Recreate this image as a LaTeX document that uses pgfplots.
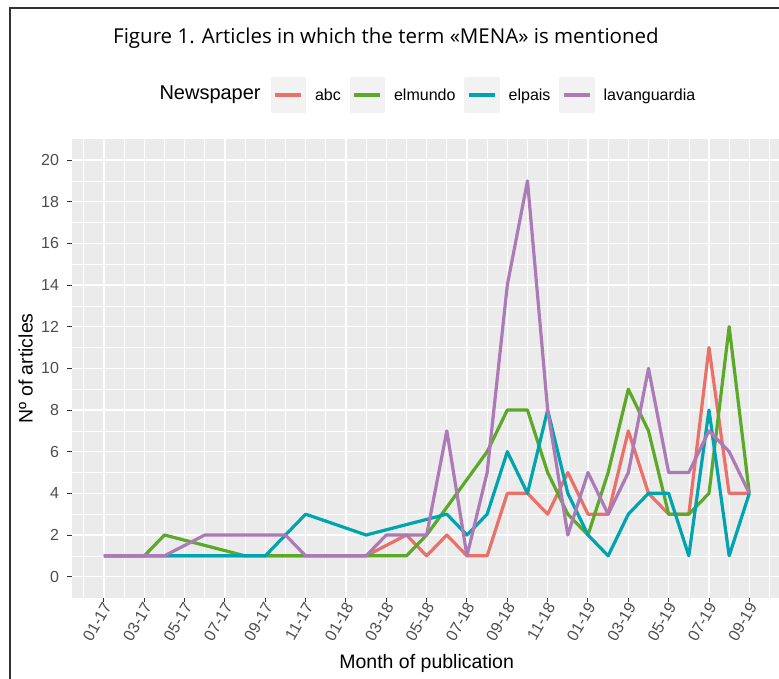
\documentclass[border=0pt]{standalone}
\usepackage{pgfplots}
\pgfplotsset{compat=1.18}
\usepackage{fontspec}
\setmainfont{Liberation Sans}
\newfontfamily\titlefont{Open Sans}
\definecolor{cabc}{RGB}{234,112,106}
\definecolor{celm}{RGB}{92,168,40}
\definecolor{cpais}{RGB}{0,164,174}
\definecolor{clav}{RGB}{172,122,182}
\definecolor{panelbg}{RGB}{235,235,235}
\definecolor{keybg}{RGB}{242,242,242}
\definecolor{ticktext}{RGB}{77,77,77}
\definecolor{tickcol}{RGB}{51,51,51}
\begin{document}
\begin{tikzpicture}[x=1pt,y=1pt]
\begin{axis}[
  at={(0,0)}, anchor=south west,
  scale only axis, width=709.9pt, height=458.3pt,
  xmin=-1.6, xmax=33.6, ymin=-1, ymax=21,
  xtick={0,2,...,32},
  xticklabels={01-17,03-17,05-17,07-17,09-17,11-17,01-18,03-18,05-18,07-18,09-18,11-18,01-19,03-19,05-19,07-19,09-19},
  minor xtick={-1,1,...,33},
  ytick={0,2,...,20},
  minor ytick={1,3,...,19},
  grid=both,
  major grid style={white, line width=1.3pt},
  minor grid style={white, line width=0.65pt},
  axis background/.style={fill=panelbg},
  axis line style={draw=none},
  tick pos=left,
  tick align=outside,
  major tick length=4.5pt,
  minor tick length=0pt,
  every tick/.style={tickcol, line width=1pt},
  /pgf/number format/assume math mode=true,
  yticklabel style={font=\fontsize{16}{16}\selectfont, text=ticktext, anchor=east, inner sep=0pt, xshift=-8pt},
  xticklabel style={font=\fontsize{16}{16}\selectfont, text=ticktext, rotate=60, anchor=east, inner sep=0pt, yshift=-4pt},
  xlabel={Month of publication},
  ylabel={Nº of articles},
  xlabel style={at={(axis description cs:0.5,-0.1429)}, anchor=center, font=\fontsize{19.5}{20}\selectfont},
  ylabel style={at={(axis description cs:-0.065,0.5)}, anchor=center, font=\fontsize{19.5}{20}\selectfont},
  legend columns=4,
  legend image code/.code={\fill[keybg] (0pt,-16pt) rectangle (32pt,16pt); \draw[#1] (3pt,0pt) -- (29pt,0pt);},
  legend style={at={(axis description cs:0.2803,1.0964)}, anchor=west, draw=none, fill=none, inner sep=0pt,
    font=\fontsize{16}{16}\selectfont, column sep=9pt, nodes={inner sep=0pt}},
]
\addplot[cabc, line width=3.2pt, line join=round] coordinates {(0,1)(2,1)(5,1)(9,1)(11,1)(13,1)(15,2)(16,1)(17,2)(18,1)(19,1)(20,4)(21,4)(22,3)(23,5)(24,3)(25,3)(26,7)(27,4)(28,3)(29,3)(30,11)(31,4)(32,4)};
\addplot[celm, line width=3.2pt, line join=round] coordinates {(0,1)(2,1)(3,2)(7,1)(8,1)(10,1)(11,1)(13,1)(15,1)(16,2)(19,6)(20,8)(21,8)(22,5)(23,3)(24,2)(25,5)(26,9)(27,7)(28,3)(29,3)(30,4)(31,12)(32,4)};
\addplot[cpais, line width=3.2pt, line join=round] coordinates {(0,1)(2,1)(4,1)(6,1)(8,1)(9,2)(10,3)(13,2)(17,3)(18,2)(19,3)(20,6)(21,4)(22,8)(23,4)(24,2)(25,1)(26,3)(27,4)(28,4)(29,1)(30,8)(31,1)(32,4)};
\addplot[clav, line width=3.2pt, line join=round] coordinates {(0,1)(3,1)(5,2)(9,2)(10,1)(13,1)(14,2)(16,2)(17,7)(18,1)(19,5)(20,14)(21,19)(22,8)(23,2)(24,5)(25,3)(26,5)(27,10)(28,5)(29,5)(30,7)(31,6)(32,4)};
\legend{abc,elmundo,elpais,lavanguardia}
\end{axis}
\node[anchor=west, inner sep=0pt, font=\fontsize{20}{20}\selectfont] at (87.6,502.5) {Newspaper};
\node[anchor=west, inner sep=0pt, font=\titlefont\fontsize{20.5}{20.5}\selectfont] at (41.3,559.5) {Figure 1. Articles in which the term «MENA» is mentioned};
\draw[line width=1.2pt, black!80] (-61.7,-85) -- (-61.7,589.5) -- (715,589.5);
\pgfresetboundingbox
\useasboundingbox (-71.7,-80.5) rectangle (707.3,597.5);
\end{tikzpicture}
\end{document}
